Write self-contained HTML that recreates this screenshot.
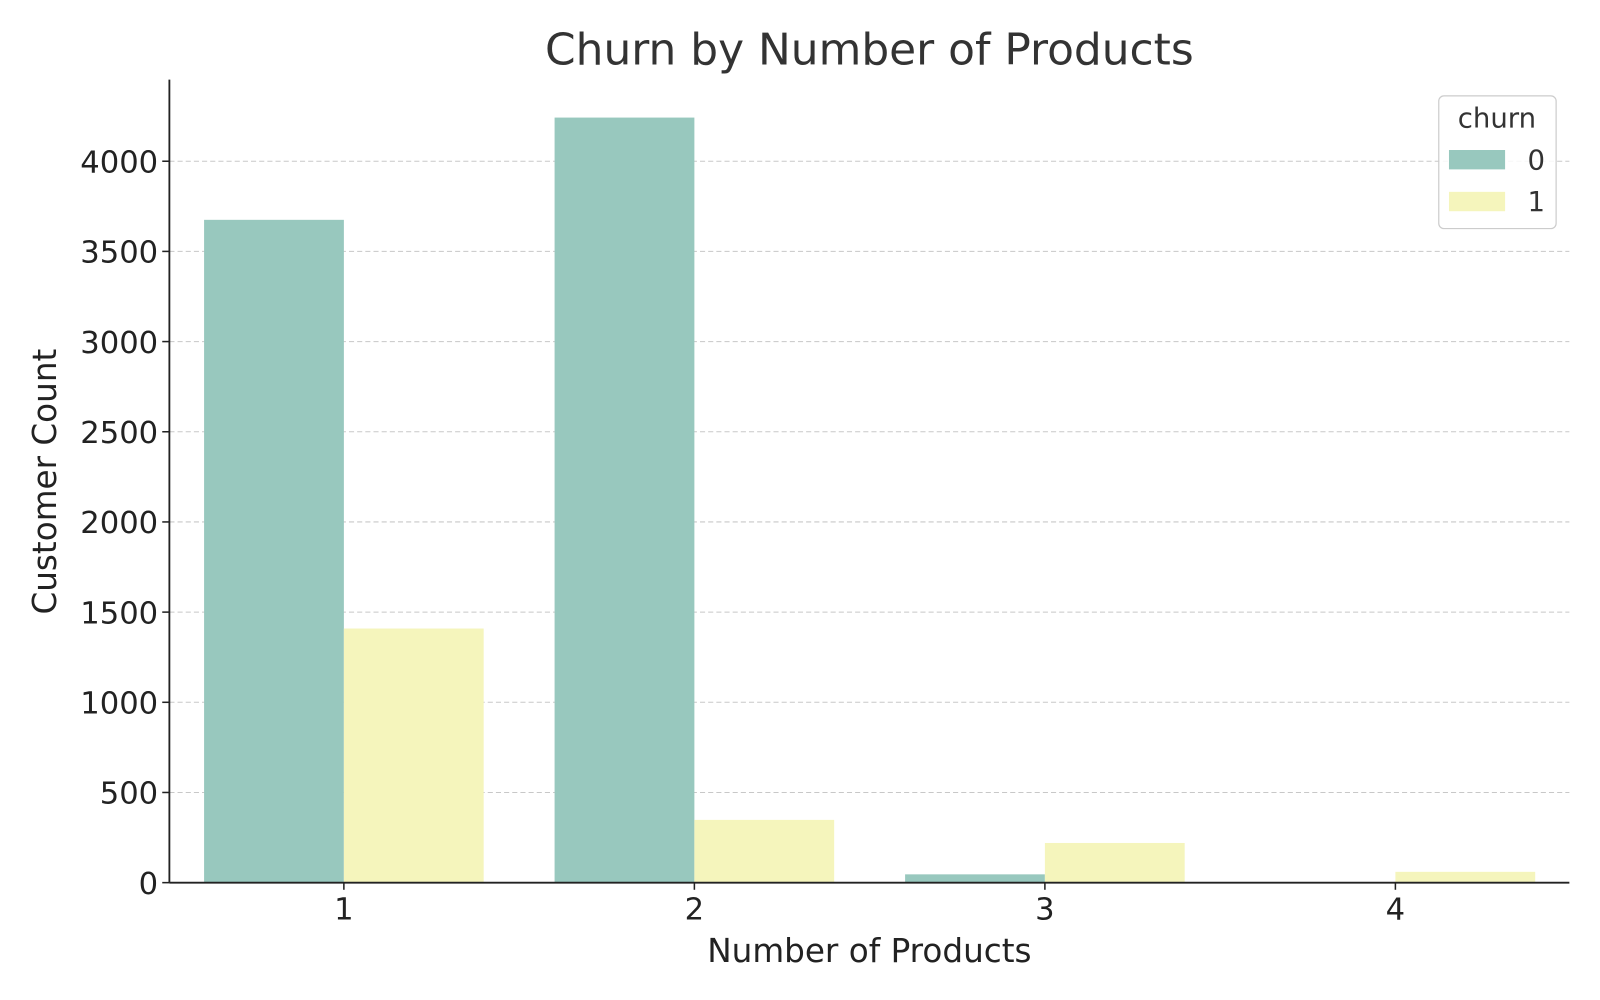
<!DOCTYPE html>
<html><head><meta charset="utf-8"><style>
body{margin:0;background:#fff;}
svg{display:block;font-family:"DejaVu Sans","Liberation Sans",sans-serif;}
</style></head><body>
<svg width="1600" height="1000" viewBox="0 0 1600 1000"><g id="chart" transform="scale(1.0204)"></g></svg>
<script>
const categories = ["1","2","3","4"];
const churn0 = [3675, 4242, 46, 0];
const churn1 = [1409, 348, 220, 60];
const yTicks = [0,500,1000,1500,2000,2500,3000,3500,4000];

const svg = document.getElementById('chart');
const NS = 'http://www.w3.org/2000/svg';
const X0 = 166, X1 = 1538, Y0 = 865, Y4000 = 158;
const yScale = v => Y0 - v * (Y0 - Y4000) / 4000;
const xCenter = i => 337 + i * 343.5;
const BW = 137;
function mk(tag, attrs, text){
  const e = document.createElementNS(NS, tag);
  for (const k in attrs) e.setAttribute(k, attrs[k]);
  if (text !== undefined) e.textContent = text;
  svg.appendChild(e);
  return e;
}
yTicks.forEach(v => {
  const y = yScale(v);
  if (v > 0) {
    const g = mk('line', {x1:X0, x2:X1, y1:y, y2:y, stroke:'#c8c8c8', 'stroke-dasharray':'5,3', 'stroke-width':1});
    
    
  }
  const t = mk('line', {x1:X0-7, x2:X0, y1:y, y2:y, stroke:'#222', 'stroke-width':1.5});
  
  
  const l = mk('text', {x:X0-11, y:y+11, 'text-anchor':'end', 'font-size':30, fill:'#222'}, String(v));
  
  
});
categories.forEach((c, i) => {
  const cx = xCenter(i);
  const h0 = Y0 - yScale(churn0[i]);
  const b0 = mk('rect', {x:cx-BW, y:yScale(churn0[i]), width:BW, height:h0, fill:'#98c8be'});
  
  
  const h1 = Y0 - yScale(churn1[i]);
  const b1 = mk('rect', {x:cx, y:yScale(churn1[i]), width:BW, height:h1, fill:'#f5f5bc'});
  
  
  const t = mk('line', {x1:cx, x2:cx, y1:Y0, y2:Y0+7, stroke:'#222', 'stroke-width':1.5});
  
  
  const l = mk('text', {x:cx, y:Y0+36, 'text-anchor':'middle', 'font-size':30, fill:'#222'}, c);
  
  
});
const ax = mk('line', {x1:X0, x2:X0, y1:78, y2:Y0, stroke:'#222', 'stroke-width':1.8});


const axx = mk('line', {x1:X0, x2:X1, y1:Y0, y2:Y0, stroke:'#222', 'stroke-width':1.8});


const title = mk('text', {x:852, y:63, 'text-anchor':'middle', 'font-size':43, fill:'#333'}, 'Churn by Number of Products');


const xt = mk('text', {x:852, y:943, 'text-anchor':'middle', 'font-size':32, fill:'#222'}, 'Number of Products');


const yt = mk('text', {x:0, y:0, 'text-anchor':'middle', 'font-size':32, fill:'#222', transform:'translate(55,472) rotate(-90)'}, 'Customer Count');


const lg = mk('rect', {x:1410, y:94, width:115, height:130, rx:5, fill:'#fff', 'fill-opacity':0.85, stroke:'#ccc', 'stroke-width':1.2});


const lt = mk('text', {x:1467, y:125, 'text-anchor':'middle', 'font-size':27, fill:'#333'}, 'churn');


[['0','#98c8be',147],['1','#f5f5bc',188]].forEach(([n,col,y]) => {
  const s = mk('rect', {x:1420, y:y, width:55, height:19, fill:col});
  
  
  const t = mk('text', {x:1497, y:y+19, 'font-size':27, fill:'#333'}, n);
  
  
});
</script>
</body></html>
